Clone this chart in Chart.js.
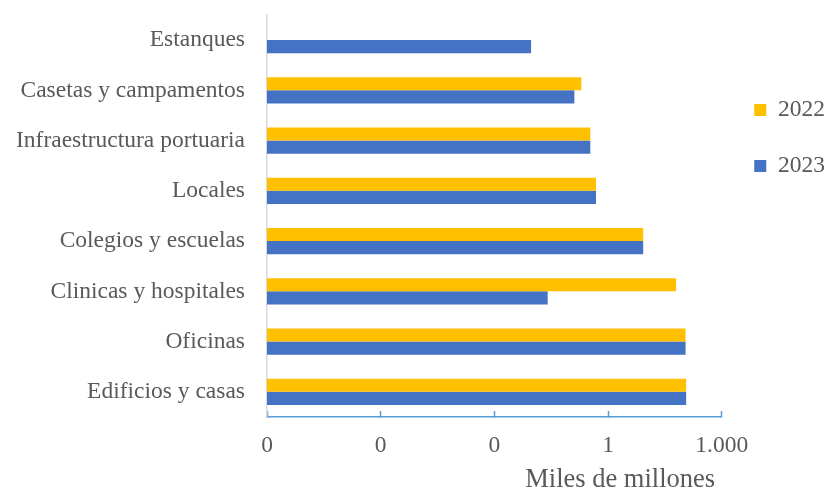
<!DOCTYPE html>
<html>
<head>
<meta charset="utf-8">
<script src="https://cdn.jsdelivr.net/npm/chart.js@4/dist/chart.umd.min.js"></script>
<style>
  html, body { margin: 0; padding: 0; background: #fff; }
  #wrap { width: 825px; height: 491px; position: relative; }
</style>
</head>
<body>
<div id="wrap"><canvas id="tipoChart"></canvas></div>
<script>
// categorias (de arriba hacia abajo) y valores en miles de millones
const categorias = [
  'Estanques',
  'Casetas y campamentos',
  'Infraestructura portuaria',
  'Locales',
  'Colegios y escuelas',
  'Clinicas y hospitales',
  'Oficinas',
  'Edificios y casas'
];
const valores2022 = [null, 0.197, 0.34, 0.48, 8.45, 62.5, 111, 115];
const valores2023 = [0.0093, 0.129, 0.34, 0.48, 8.45, 0.0255, 111, 115];
// eje logaritmico base 1000
const ticksX = [1e-9, 1e-6, 1e-3, 1, 1000];

const serif = "'Liberation Serif', 'Times New Roman', serif";
const gris = '#595959';

function formatoMiles(v) {
  return Math.round(v).toString().replace(/\B(?=(\d{3})+(?!\d))/g, '.');
}

const ctx = document.getElementById('tipoChart');
new Chart(ctx, {
  type: 'bar',
  data: {
    labels: categorias,
    datasets: [
      { label: '2022', data: valores2022, backgroundColor: '#FFC000', borderWidth: 0 },
      { label: '2023', data: valores2023, backgroundColor: '#4472C4', borderWidth: 0 }
    ]
  },
  options: {
    indexAxis: 'y',
    responsive: true,
    maintainAspectRatio: false,
    animation: false,
    devicePixelRatio: 1,
    layout: { padding: { top: 15, left: 0, right: -10, bottom: 0 } },
    datasets: { bar: { categoryPercentage: 0.52, barPercentage: 1 } },
    scales: {
      x: {
        type: 'logarithmic',
        min: 1e-9,
        max: 1000,
        afterBuildTicks: (scale) => { scale.ticks = ticksX.map(v => ({ value: v })); },
        ticks: {
          callback: (v) => formatoMiles(v),
          color: gris,
          font: { family: serif, size: 23.5, lineHeight: 1 },
          padding: 23,
          maxRotation: 0,
          autoSkip: false
        },
        grid: {
          drawOnChartArea: false,
          drawTicks: true,
          tickLength: -6,
          tickWidth: 1.5,
          color: '#5B9BD5'
        },
        border: { display: true, color: '#5B9BD5', width: 1.5 },
        title: {
          display: true,
          text: 'Miles de millones ',
          align: 'end',
          color: gris,
          font: { family: serif, size: 26.5, lineHeight: 0.85 },
          padding: { top: -12, bottom: 0 }
        }
      },
      y: {
        // ancho fijo para que las etiquetas largas quepan
        afterFit: (scale) => {
          scale.width = 267;
          scale.paddingTop = 0;
          scale.paddingBottom = 0;
        },
        grid: { display: false, drawTicks: false },
        border: { display: true, color: '#D9D9D9', width: 1.5 },
        ticks: {
          color: gris,
          font: { family: serif, size: 23.5 },
          padding: 22
        }
      }
    },
    plugins: {
      legend: {
        position: 'right',
        align: 'start',
        title: {
          display: true,
          text: ' ',
          color: 'rgba(0,0,0,0)',
          font: { size: 10, lineHeight: 1 },
          padding: { top: 40.75, bottom: 0 }
        },
        labels: {
          boxWidth: 12,
          boxHeight: 12,
          padding: 32.5,
          color: gris,
          font: { family: serif, size: 23.5 }
        }
      },
      tooltip: { enabled: false }
    }
  }
});
</script>
</body>
</html>
